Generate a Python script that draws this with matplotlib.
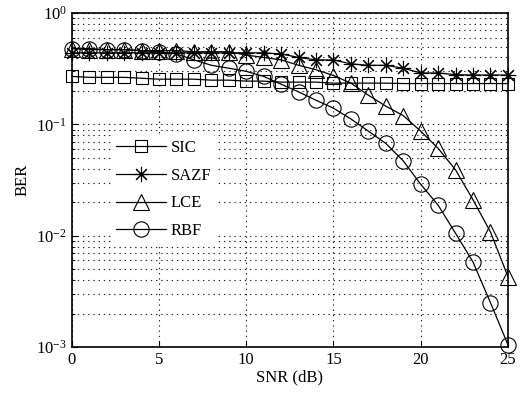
import matplotlib
matplotlib.use("Agg")
import matplotlib.pyplot as plt
import numpy as np
from matplotlib.ticker import LogLocator, FixedLocator

plt.rcParams['font.family'] = ['Liberation Serif', 'DejaVu Serif']
plt.rcParams['mathtext.fontset'] = 'stix'

snr = list(range(0, 26))
sic = [0.27, 0.265, 0.265, 0.265, 0.26, 0.255, 0.255, 0.255, 0.25, 0.25, 0.245, 0.245, 0.24,
       0.24, 0.24, 0.235, 0.235, 0.235, 0.235, 0.233, 0.233, 0.233, 0.233, 0.233, 0.233, 0.233]
sazf = [0.44, 0.44, 0.44, 0.44, 0.44, 0.44, 0.44, 0.44, 0.44, 0.44, 0.44, 0.44, 0.43,
        0.40, 0.38, 0.38, 0.35, 0.34, 0.34, 0.32, 0.29, 0.29, 0.28, 0.278, 0.278, 0.278]
lce = [0.48, 0.47, 0.47, 0.47, 0.46, 0.46, 0.46, 0.45, 0.45, 0.45, 0.42, 0.40, 0.38,
       0.34, 0.31, 0.275, 0.235, 0.183, 0.146, 0.12, 0.087, 0.061, 0.039, 0.021, 0.0108, 0.0043]
rbf = [0.48, 0.48, 0.47, 0.47, 0.46, 0.45, 0.43, 0.38, 0.34, 0.32, 0.30, 0.27, 0.23,
       0.196, 0.165, 0.14, 0.112, 0.087, 0.0675, 0.047, 0.029, 0.0188, 0.0105, 0.0058, 0.0025, 0.00105]
labels = ['SIC', 'SAZF', 'LCE', 'RBF']
xticks = [0, 5, 10, 15, 20, 25]

fig = plt.figure(figsize=(5.28, 3.98), dpi=100)
ax = fig.add_axes([0.136, 0.128, 0.826, 0.839])

common = dict(color='black', linewidth=0.9, markerfacecolor='none', markeredgecolor='black',
              markeredgewidth=0.8, clip_on=False, zorder=3)
ax.semilogy(snr, sic, marker='s', markersize=9, label=labels[0], **common)
ax.semilogy(snr, sazf, marker=(8, 2, 0), markersize=11, label=labels[1], **common)
ax.semilogy(snr, lce, marker='^', markersize=11, label=labels[2], **common)
ax.semilogy(snr, rbf, marker='o', markersize=11, label=labels[3], **common)

ax.set_xlim(0, 25)
ax.set_ylim(1e-3, 1)
ax.xaxis.set_major_locator(FixedLocator(xticks))
ax.yaxis.set_major_locator(LogLocator(base=10, numticks=10))
ax.yaxis.set_minor_locator(LogLocator(base=10, subs=np.arange(2, 10), numticks=10))
ax.grid(True, which='major', linestyle=(0, (1.2, 3.5)), color='#222222', linewidth=0.8)
ax.grid(True, which='minor', axis='y', linestyle=(0, (1.2, 3.5)), color='#222222', linewidth=0.8)
ax.tick_params(which='both', direction='in', labelsize=12, top=False, right=False)
ax.tick_params(which='major', length=4)
ax.tick_params(which='minor', length=2)
for s in ax.spines.values():
    s.set_linewidth(1.2)

ax.set_xlabel('SNR (dB)', fontsize=12, labelpad=1)
ax.set_ylabel('BER', fontsize=12, labelpad=4)

leg = ax.legend(loc='upper left', bbox_to_anchor=(0.07, 0.66), frameon=True, fontsize=12,
                handlelength=3, borderpad=0.3, labelspacing=0.7, handletextpad=0.3)
leg.get_frame().set_edgecolor('none')
leg.get_frame().set_facecolor('white')
leg.get_frame().set_alpha(1)

fig.savefig('out.png', dpi=100)
